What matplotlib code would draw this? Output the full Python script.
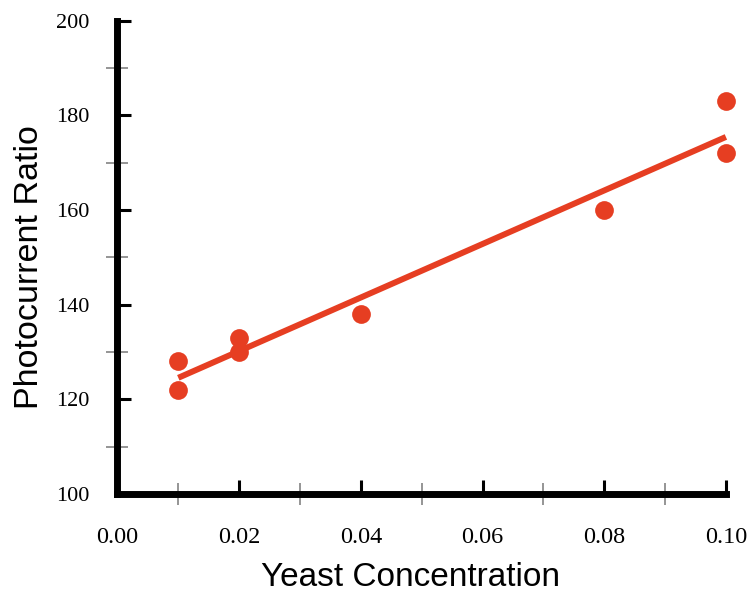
import numpy as np
import matplotlib.pyplot as plt
from matplotlib.ticker import MultipleLocator

# data
conc = [0.01, 0.01, 0.02, 0.02, 0.04, 0.08, 0.10, 0.10]
ratio = [128, 122, 133, 130, 138, 160, 183, 172]

red = "#E63E22"

fig = plt.figure(figsize=(7.53, 5.95), dpi=100)
ax = fig.add_axes([0.156, 0.170, 0.808, 0.795])

# linear fit
m, b = np.polyfit(conc, ratio, 1)
xf = np.array([min(conc), max(conc)])
ax.plot(xf, m * xf + b, color=red, lw=4.3, solid_capstyle="butt", zorder=2, clip_on=False)
ax.plot(conc, ratio, "o", color=red, ms=13.5, mec="none", zorder=3, clip_on=False)

ax.set_xlim(0, 0.10)
ax.set_ylim(100, 200)

for s in ["top", "right"]:
    ax.spines[s].set_visible(False)
for s in ["left", "bottom"]:
    ax.spines[s].set_linewidth(5)
    ax.spines[s].set_capstyle("projecting")

ax.xaxis.set_major_locator(MultipleLocator(0.02))
ax.xaxis.set_minor_locator(MultipleLocator(0.01))
ax.yaxis.set_major_locator(MultipleLocator(20))
ax.yaxis.set_minor_locator(MultipleLocator(10))
ax.xaxis.set_major_formatter(plt.FormatStrFormatter("%.2f"))

ax.tick_params(which="major", direction="in", length=10, width=2.2, color="black")
ax.tick_params(which="minor", direction="inout", length=16, width=1.3, color="#8c8c8c")
ax.tick_params(axis="x", which="major", pad=24)
ax.tick_params(axis="y", which="major", pad=20)

for lab in ax.get_xticklabels():
    lab.set_fontfamily("Liberation Serif")
    lab.set_fontsize(17.5)
for lab in ax.get_yticklabels():
    lab.set_fontfamily("Liberation Serif")
    lab.set_fontsize(16)

# axis titles placed in figure coords
fig.text(411 / 753, 1 - 578 / 595, "Yeast Concentration", fontfamily="Liberation Sans",
         fontsize=24, ha="center", va="center")
fig.text(30 / 753, 1 - 267 / 595, "Photocurrent Ratio", fontfamily="Liberation Sans",
         fontsize=24.5, ha="center", va="center", rotation=90)

fig.savefig("out.png", dpi=100)
